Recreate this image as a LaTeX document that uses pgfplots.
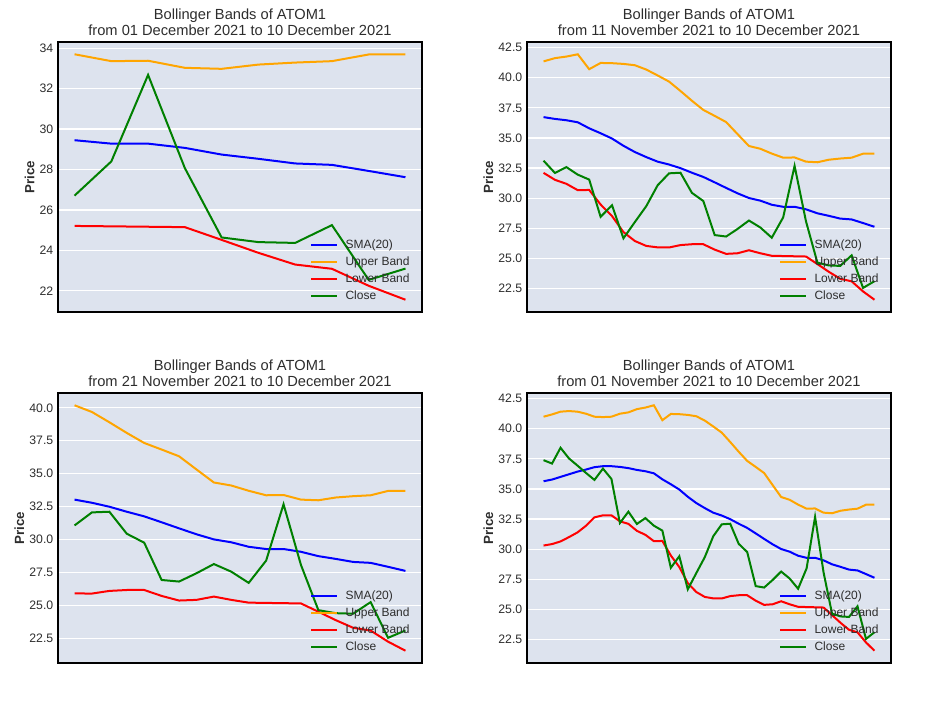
\documentclass[border=0pt]{standalone}
\usepackage{fontspec}
\setmainfont{Liberation Sans}
\usepackage{pgfplots}
\usepackage{pgfplotstable}
\pgfplotsset{compat=1.18}

\definecolor{bgcol}{RGB}{221,227,238}
\definecolor{cblue}{RGB}{0,0,255}
\definecolor{corange}{RGB}{255,165,0}
\definecolor{cred}{RGB}{255,0,0}
\definecolor{cgreen}{RGB}{0,128,0}
\definecolor{txtgray}{RGB}{45,45,45}

% ATOM1 daily data, 01 Nov 2021 (idx 0) to 10 Dec 2021 (idx 39)
\pgfplotstableread{
idx close sma upper lower
0  37.39 35.64 41.00 30.30
1  37.11 35.78 41.19 30.42
2  38.42 36.00 41.42 30.64
3  37.53 36.22 41.47 31.00
4  36.94 36.44 41.42 31.39
5  36.33 36.61 41.25 31.94
6  35.75 36.81 41.00 32.64
7  36.69 36.89 40.97 32.81
8  35.83 36.89 41.00 32.81
9  32.17 36.83 41.25 32.31
10 33.11 36.73 41.36 32.10
11 32.09 36.58 41.63 31.52
12 32.58 36.47 41.76 31.19
13 31.95 36.30 41.95 30.66
14 31.54 35.80 40.71 30.68
15 28.45 35.39 41.23 29.47
16 29.41 34.95 41.21 28.51
17 26.66 34.35 41.15 27.18
18 28.01 33.83 41.04 26.44
19 29.33 33.41 40.68 26.03
20 31.07 33.03 40.19 25.91
21 32.06 32.79 39.68 25.90
22 32.11 32.49 38.90 26.10
23 30.44 32.11 38.09 26.17
24 29.76 31.76 37.33 26.17
25 26.93 31.31 36.83 25.72
26 26.81 30.85 36.32 25.37
27 27.44 30.40 35.32 25.42
28 28.14 30.01 34.33 25.67
29 27.56 29.79 34.10 25.42
30 26.71 29.45 33.70 25.21
31 28.40 29.28 33.36 25.19
32 32.68 29.28 33.38 25.17
33 28.07 29.07 33.03 25.15
34 24.64 28.74 32.98 24.52
35 24.41 28.53 33.19 23.88
36 24.37 28.30 33.29 23.30
37 25.25 28.23 33.36 23.09
38 22.54 27.93 33.69 22.25
39 23.10 27.62 33.70 21.56
}\atom

\pgfplotsset{
  bbstyle/.style={
    scale only axis, width=273pt, height=202.5pt, anchor=north west,
    axis background/.style={fill=bgcol},
    axis line style={black, line width=1.5pt},
    xtick=\empty,
    ymajorgrids, major grid style={white, line width=0.9pt},
    major tick length=0pt,
    enlarge x limits=0.05, enlarge y limits=0.05,
    tick label style={font=\fontsize{9.2}{11}\selectfont, text=txtgray},
    /pgf/number format/assume math mode=true,
    ylabel={\textbf{Price}},
    ylabel shift=-3pt,
    ylabel style={font=\fontsize{10}{12}\selectfont, text=txtgray},
    title style={align=center, font=\fontsize{11}{12.2}\selectfont, text=txtgray, yshift=-5pt},
    legend style={at={(0.983,0.018)}, anchor=south east, draw=none, fill=none,
      font=\fontsize{9}{10}\selectfont, text=txtgray, row sep=0.75pt, column sep=4pt,
      nodes={text height=7pt, text depth=2pt, inner sep=1.5pt}},
    legend cell align=left,
    legend image code/.code={\draw[##1] (0pt,0pt) -- (19.5pt,0pt);},
    every axis plot/.append style={line width=1.5pt},
    restrict x to domain=#1:39,
  },
  decticks/.style={
    ytick={22.5,25,...,42.5},
    yticklabel style={/pgf/number format/.cd, fixed, fixed zerofill, precision=1},
  },
}

\newcommand{\bbplots}{%
  \addplot[cblue] table[x=idx,y=sma]{\atom};
  \addplot[corange] table[x=idx,y=upper]{\atom};
  \addplot[cred] table[x=idx,y=lower]{\atom};
  \addplot[cgreen] table[x=idx,y=close]{\atom};
  \legend{SMA(20),Upper Band,Lower Band,Close}
}

\begin{document}
\begin{tikzpicture}
\path[use as bounding box] (0pt,0pt) rectangle (702.75pt,-527.25pt);

\begin{axis}[bbstyle=30, at={(43.5pt,-31.5pt)},
  ytick={22,24,...,34},
  title={Bollinger Bands of ATOM1\\from 01 December 2021 to 10 December 2021}]
\bbplots
\end{axis}

\begin{axis}[bbstyle=10, decticks, at={(395.25pt,-31.5pt)},
  title={Bollinger Bands of ATOM1\\from 11 November 2021 to 10 December 2021}]
\bbplots
\end{axis}

\begin{axis}[bbstyle=20, decticks, at={(43.5pt,-294.75pt)},
  title={Bollinger Bands of ATOM1\\from 21 November 2021 to 10 December 2021}]
\bbplots
\end{axis}

\begin{axis}[bbstyle=0, decticks, at={(395.25pt,-294.75pt)},
  title={Bollinger Bands of ATOM1\\from 01 November 2021 to 10 December 2021}]
\bbplots
\end{axis}
\end{tikzpicture}
\end{document}
